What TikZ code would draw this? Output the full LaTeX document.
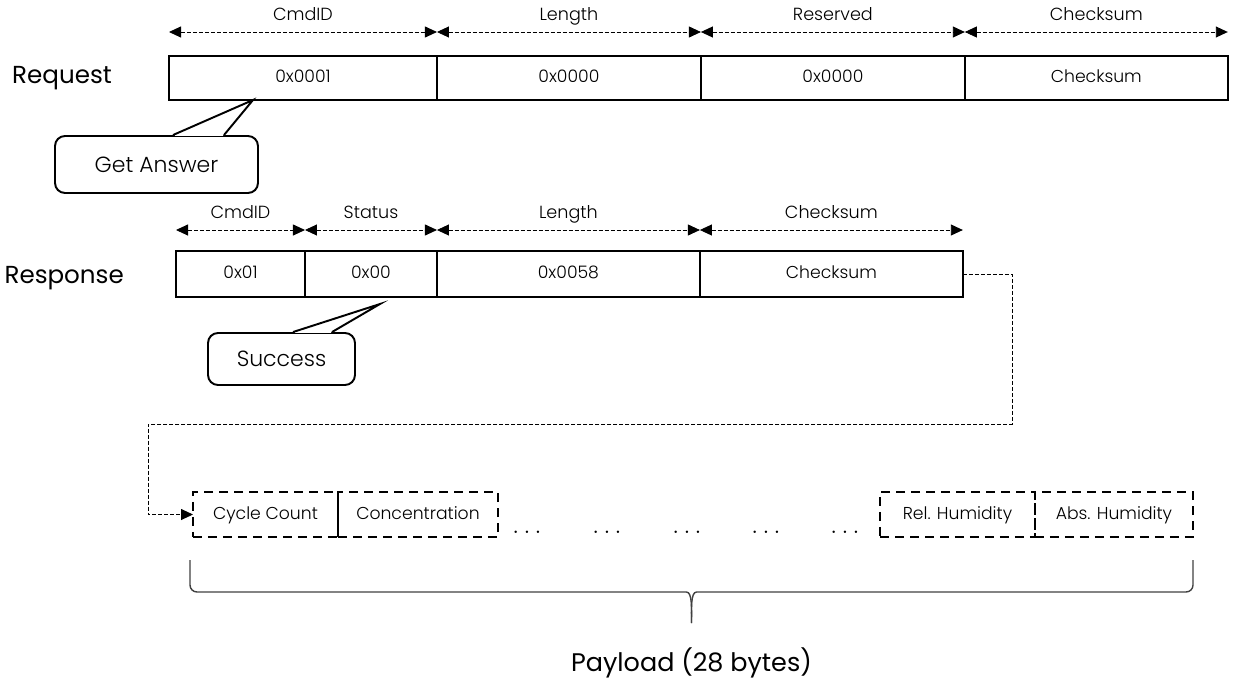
\documentclass[tikz,border=0pt]{standalone}
\usepackage{fontspec}
\setmainfont{Poppins}[UprightFont=* Light]
\newfontfamily\headfont{Poppins}
\usetikzlibrary{positioning, arrows.meta, calc}

\begin{document}
\begin{tikzpicture}[
    x=0.02cm, y=-0.02cm,
    font=\fontsize{9.8}{11}\selectfont,
    >={Triangle[length=0.24cm, width=0.22cm]},
    % one style per kind of box, fonts declared once
    field/.style    = {draw=black, line width=1.3pt, inner sep=0pt, outer sep=0pt, minimum height=0.88cm,
                       text height=0.72em, text depth=0.2em},
    cell/.style     = {draw=black, line width=1.5pt, dash pattern=on 0.18cm off 0.12cm,
                       inner sep=0pt, outer sep=0pt, minimum height=0.9cm, text height=0.72em, text depth=0.2em},
    bubble/.style   = {draw=black, line width=1.1pt, rounded corners=0.2cm, fill=white, inner sep=0pt,
                       font=\fontsize{12.5}{14}\selectfont},
    rowlabel/.style = {font=\headfont\fontsize{14}{17}\selectfont},
    dim/.style      = {<->, line width=0.5pt, dash pattern=on 0.08cm off 0.04cm},
    link/.style     = {->, line width=0.5pt, dash pattern=on 0.08cm off 0.04cm},
    tag/.style      = {midway, above=1pt, font=\fontsize{10}{12}\selectfont, text height=0.72em, text depth=0.2em},
    brace/.style    = {line width=0.8pt, black!75, rounded corners=0.14cm},
  ]
  \useasboundingbox (0,0) rectangle (1233,685);

  %% ---------- request frame ----------
  \node[field, minimum width=5.36cm, anchor=west] (rq1) at (169,78) {0x0001};
  \node[field, minimum width=5.28cm, right=0pt of rq1] (rq2) {0x0000};
  \node[field, minimum width=5.28cm, right=0pt of rq2] (rq3) {0x0000};
  \node[field, minimum width=5.26cm, right=0pt of rq3] (rq4) {Checksum};
  \node[rowlabel, left=1.02cm of rq1] (req) {Request};

  \foreach \f/\t in {rq1/CmdID, rq2/Length, rq3/Reserved, rq4/Checksum}
    \draw[dim] ([yshift=0.48cm]\f.north west) -- ([yshift=0.48cm]\f.north east) node[tag] {\t};

  %% ---------- response frame ----------
  \node[field, minimum width=2.58cm, minimum height=0.92cm, anchor=west] (rs1) at (176,274) {0x01};
  \node[field, minimum width=2.64cm, minimum height=0.92cm, right=0pt of rs1] (rs2) {0x00};
  \node[field, minimum width=5.26cm, minimum height=0.92cm, right=0pt of rs2] (rs3) {0x0058};
  \node[field, minimum width=5.26cm, minimum height=0.92cm, right=0pt of rs3] (rs4) {Checksum};
  \node[rowlabel, left=0.92cm of rs1, yshift=-0.08cm] (resp) {Response};

  \foreach \f/\t in {rs1/CmdID, rs2/Status, rs3/Length, rs4/Checksum}
    \draw[dim] ([yshift=0.42cm]\f.north west) -- ([yshift=0.42cm]\f.north east) node[tag] {\t};

  %% ---------- callouts ----------
  \node[bubble, minimum width=4.06cm, minimum height=1.14cm] (ga) at (156.5,164.5) {Get Answer};
  \coordinate (gaTip) at (253,100);
  \coordinate (gaL) at ($(ga.north)+(16.5,0)$);
  \coordinate (gaR) at ($(ga.north)+(67.5,0)$);
  \fill[white] (gaL) -- (gaTip) -- (gaR) -- cycle;
  \draw[white, line width=1.6pt] ($(gaL)+(1.5,0)$) -- ($(gaR)+(-1.5,0)$);
  \draw[line width=1.1pt] (gaL) -- (gaTip) -- (gaR);

  \node[bubble, minimum width=2.94cm, minimum height=1.04cm] (ok) at (281.5,359) {Success};
  \coordinate (okTip) at (380,304);
  \coordinate (okL) at ($(ok.north)+(11.5,0)$);
  \coordinate (okR) at ($(ok.north)+(50.5,0)$);
  \fill[white] (okL) -- (okTip) -- (okR) -- cycle;
  \draw[white, line width=1.6pt] ($(okL)+(1.5,0)$) -- ($(okR)+(-1.5,0)$);
  \draw[line width=1.1pt] (okL) -- (okTip) -- (okR);

  %% ---------- payload ----------
  \node[cell, minimum width=2.9cm, anchor=west] (pl1) at (193,514.5) {Cycle Count};
  \node[cell, minimum width=3.2cm, right=0pt of pl1] (pl2) {Concentration};
  \node[cell, minimum width=3.1cm, anchor=west] (pl3) at (880,514.5) {Rel. Humidity};
  \node[cell, minimum width=3.16cm, right=0pt of pl3] (pl4) {Abs. Humidity};

  \foreach \x [count=\i] in {527,607,687,766,845}
    \node[font=\fontsize{15}{17}\selectfont] (dots\i) at (\x,532) {$\ldots$};

  \draw[link] (rs4.east) -| (1012,424) -| (148,514.5) -- (pl1.west);

  % brace under the payload
  \coordinate (brL) at (190,560);
  \coordinate (brR) at (1193,560);
  \coordinate (brTip) at (691.5,623);
  \draw[brace] (brL) |- ($(brTip)+(-12,-31)$) to[out=0, in=90] (brTip);
  \draw[brace] (brR) |- ($(brTip)+(12,-31)$) to[out=180, in=90] (brTip);
  \node[rowlabel, font=\headfont\fontsize{14.5}{17}\selectfont] (pay) at (691.5,663) {Payload (28 bytes)};
\end{tikzpicture}
\end{document}
